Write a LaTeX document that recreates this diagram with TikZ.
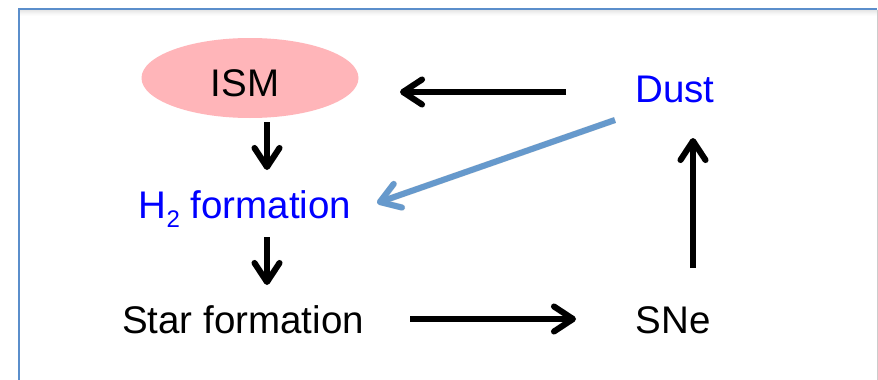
\documentclass[tikz,border=0pt]{standalone}
\usepackage{fontspec}
\setmainfont{Liberation Sans}
\usetikzlibrary{arrows.meta,shapes.geometric}
\definecolor{framec}{HTML}{5B8ECB}
\definecolor{ismfill}{HTML}{FFB5B9}
\definecolor{linkblue}{HTML}{6699CC}
\definecolor{txtblue}{HTML}{0000FF}
\newcommand{\lowtwo}{\raisebox{-9pt}{\fontsize{24}{26}\selectfont 2}}
\begin{document}
\begin{tikzpicture}[x=1pt,y=-1pt,
  lbl/.style={font=\fontsize{38.5}{42}\selectfont, inner sep=0pt, anchor=base},
  tipshape/.style={-{Straight Barb[length=19pt, width=25pt, line cap=round, line join=round]}},
  flow/.style={line width=6pt, draw=black, tipshape},
  dustlink/.style={line width=6pt, draw=linkblue, tipshape},
  shade/.style={line width=6.5pt, draw=black, opacity=0.1, tipshape, shift={(1.5pt,-3pt)}}]
  \useasboundingbox (0,0) rectangle (878,380);
  % slide frame with a soft inner shade along the top
  \fill[white] (0,0) rectangle (878,380);
  \foreach \i/\o in {1/0.25,2/0.2,3/0.15,4/0.1,5/0.06,6/0.03}
    \fill[black,opacity=\o*0.4] (20,9+\i) rectangle (877,10+\i);
  \draw[black!20, line width=1pt] (877,10) -- (877,390);
  \draw[framec, line width=2pt] (877,9) -- (19,9) -- (19,390);

  % nodes
  \node[ellipse, fill=ismfill, minimum width=217pt, minimum height=80pt, inner sep=0pt] (ism) at (250,78) {};
  \node[lbl] (ismtext) at (245,96) {ISM};
  \node[lbl, text=txtblue] (h2) at (245,218) {H\lowtwo\ formation};
  \node[lbl] (star) at (243,333) {Star formation};
  \node[lbl] (sne) at (673,333) {SNe};
  \node[lbl, text=txtblue] (dust) at (675,102) {Dust};

  % arrow anchor points
  \coordinate (a1s) at (267,122); \coordinate (a1e) at (267,170);
  \coordinate (a2s) at (267,237); \coordinate (a2e) at (267,285);
  \coordinate (a3s) at (410,319); \coordinate (a3e) at (576,319);
  \coordinate (a4s) at (693,268); \coordinate (a4e) at (693,138);
  \coordinate (a5s) at (566,92);  \coordinate (a5e) at (400,92);
  \coordinate (a6s) at (615,120); \coordinate (a6e) at (377,203);

  % soft shadows under the arrows
  \foreach \s/\e in {a1s/a1e,a2s/a2e,a3s/a3e,a4s/a4e,a5s/a5e,a6s/a6e}
    \draw[shade] (\s) -- (\e);

  \draw[flow] (a1s) -- (a1e);
  \draw[flow] (a2s) -- (a2e);
  \draw[flow] (a3s) -- (a3e);
  \draw[flow] (a4s) -- (a4e);
  \draw[flow] (a5s) -- (a5e);
  \draw[dustlink] (a6s) -- (a6e);
\end{tikzpicture}
\end{document}
